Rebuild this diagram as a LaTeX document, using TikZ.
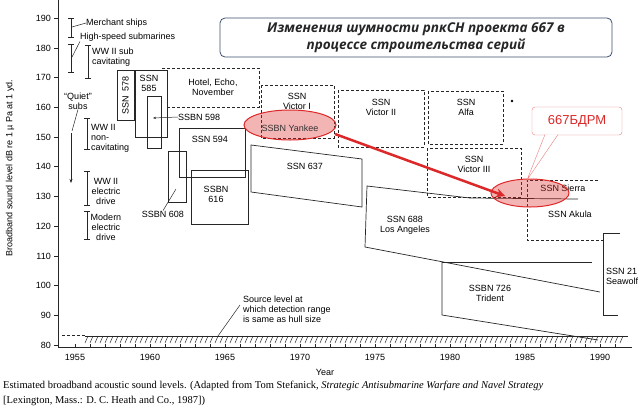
\documentclass[tikz,border=0pt]{standalone}
\usepackage{fontspec}
\setmainfont{Liberation Serif}
\setsansfont{Liberation Sans}
\newfontfamily\titlefont{Open Sans}
\usetikzlibrary{arrows.meta, positioning, shapes.geometric}
\definecolor{markRed}{RGB}{220, 40, 40}
\definecolor{titleBlue}{RGB}{60, 80, 110}
\tikzset{
    % Labels and outlines
    lbl/.style={font=\sffamily\fontsize{9}{10}\selectfont, align=center, inner sep=0pt},
    box/.style={draw=black!85, line width=0.7pt},
    dbox/.style={draw=black!85, line width=0.7pt, dash pattern=on 3pt off 2pt},
    bracket/.style={draw=black!85, line width=0.7pt, |-|},
    leader/.style={draw=black!85, line width=0.5pt},
    hilite/.style={ellipse, draw=markRed, line width=1pt, fill=markRed, fill opacity=0.35}
}
\begin{document}
\begin{tikzpicture}[x=1pt, y=-1pt]
    \useasboundingbox (0,0) rectangle (640,413);

    % --- Axes ---
    \draw[box] (58,0) -- (58,347) -- (632,347);
    \foreach \v [count=\i from 0] in {80,90,...,190} {
        \draw[box] (54,345-29.7*\i) -- (58,345-29.7*\i);
        \node[lbl, anchor=east] at (51,345-29.7*\i) {\v};
    }
    \foreach \yr in {0,...,36} \draw[leader] (75+15*\yr,347) -- (75+15*\yr,344);
    \foreach \yr [count=\i from 0] in {1955,1960,...,1990} \node[lbl] at (75+75*\i,357) {\yr};
    \node[lbl] (xlab) at (325,372) {Year};
    \node[lbl, rotate=90] (ylab) at (10,168) {Broadband sound level dB re 1 \textmu{} Pa at 1 yd.};

    % --- Categories on the left ---
    \draw[bracket] (71,18) -- (71,38);
    \node[lbl, anchor=west] (merch) at (86,23) {Merchant ships};
    \draw[leader] (merch.west) -- (72,27);
    \draw[bracket] (71,44) -- (71,73);
    \node[lbl, anchor=west] (hs) at (80,37) {High-speed submarines};
    \draw[leader] (hs.south west) -- (72,57);
    \draw[bracket] (88,45) -- (88,79);
    \node[lbl, anchor=west, align=left] at (92,57) {WW II sub\\cavitating};
    \node[lbl] (quiet) at (78,101) {``Quiet''\\subs};
    \draw[leader, -{Stealth[length=4pt]}] (71,133) -- (71,183);
    \draw[leader] (quiet.south) -- (72,131);
    \draw[bracket] (87,118) -- (87,150);
    \node[lbl, anchor=west, align=left] at (91,138) {WW II\\non-\\cavitating};
    \draw[bracket] (87,171) -- (87,206);
    \node[lbl] at (106,191) {WW II\\electric\\drive};
    \draw[bracket] (87,211) -- (87,240);
    \node[lbl] at (106,227) {Modern\\electric\\drive};

    % --- Boats ---
    \draw[box] (117,70) rectangle (134,120);
    \node[lbl, rotate=90] at (125.5,95) {SSN\enspace 578};
    \draw[box] (135,70) rectangle (167,137);
    \node[lbl] at (149,83) {SSN\\585};
    \draw[box] (147,96) rectangle (161,148);
    \node[lbl, anchor=west] (s598) at (178,117) {SSBN 598};
    \draw[leader, -{Stealth[length=3pt]}] (s598.west) -- (153,118);
    \draw[dbox] (162,68) -- (259,68) -- (259,107) -- (167,107);
    \node[lbl] at (213,87) {Hotel, Echo,\\November};
    \draw[box] (179,128) rectangle (245,177);
    \node[lbl] at (210,139) {SSN 594};
    \draw[box] (168,151) rectangle (186,202);
    \node[lbl] (s608) at (163,214) {SSBN 608};
    \draw[leader] (s608.north) -- (176,189);
    \draw[box] (191,170) rectangle (248,224);
    \node[lbl] at (216,194) {SSBN\\616};
    \draw[box] (251,145) -- (362,159) -- (362,207) -- (251,192) -- cycle;
    \node[lbl] at (305,166) {SSN 637};
    \draw[dbox] (261,85) rectangle (334,138);
    \node[lbl] at (297,101) {SSN\\Victor I};
    \draw[dbox] (338,90) rectangle (424,147);
    \node[lbl] at (381,107) {SSN\\Victor II};
    \draw[dbox] (428,91) rectangle (503,144);
    \node[lbl] at (466,107) {SSN\\Alfa};
    \fill (512,101) circle (1.3pt);
    \draw[dbox] (427,148) rectangle (521,197);
    \node[lbl] at (474,164) {SSN\\Victor III};
    \draw[box] (470,198) -- (367,186) -- (365,247) -- (600,292);
    \draw[box] (470,198) -- (578,199);
    \draw[box] (442,262) -- (592,262);
    \node[lbl] at (405,225) {SSN 688\\\textsc{Los Angeles}};
    \draw[box] (442,262) -- (442,315) -- (598,340);
    \node[lbl] at (490,293) {SSBN 726\\Trident};
    \draw[dbox] (598,180) -- (527,180) -- (527,240) -- (603,240);
    \draw[box] (620,233) -- (603,233) -- (603,315) -- (618,315);
    \node[lbl] at (563,188) {SSN Sierra};
    \node[lbl] at (570,214) {SSN Akula};
    \node[lbl, anchor=west, align=left] at (606,276) {SSN 21\\\textsc{Seawolf}};

    % --- Detection floor ---
    \draw[dbox] (62,335) -- (85,335);
    \draw[box] (85,336) -- (628,336);
    \foreach \h in {0,...,107} \draw[leader] (88+5*\h,336) -- (85+5*\h,343);
    \node[lbl, anchor=north west, align=left] (src) at (243,296) {Source level at\\which detection range\\is same as hull size};
    \draw[leader] (240,305) -- (218,336);

    % --- Overlay: title, highlights, callout ---
    \node[draw=titleBlue, line width=0.8pt, rounded corners=5pt, minimum width=392pt, minimum height=39pt, fill=white,
          font=\titlefont\bfseries\itshape\fontsize{13.5}{17}\selectfont, align=center, text=black!85] (title) at (416,37.5)
          {Изменения шумности рпкСН проекта 667 в\\процессе строительства серий};
    \node[hilite, minimum width=92pt, minimum height=30pt] (yankee) at (290,125) {};
    \node[lbl, text=black!80] at (290,128) {SSBN Yankee};
    \node[hilite, minimum width=78pt, minimum height=28pt] (sierra) at (530,193) {};
    \draw[markRed, line width=2.5pt, -{Stealth[length=9pt, width=9pt]}] (335,134) -- (505,196);
    \node[draw=markRed!60, rounded corners=3pt, fill=white, minimum width=90pt, minimum height=28pt,
          font=\sffamily\fontsize{13}{13}\selectfont, text=markRed] (call) at (577,121) {667БДРМ};
    \draw[markRed!60, fill=white] (545,134.5) -- (527,180) -- (558,134.5);

    % --- Caption ---
    \node[anchor=west, font=\fontsize{10.5}{11}\selectfont, inner sep=0pt] (cap1) at (3,386)
        {Estimated broadband acoustic sound levels. (Adapted from Tom Stefanick, \textit{Strategic Antisubmarine Warfare and Navel Strategy}};
    \node[anchor=west, font=\fontsize{10.5}{11}\selectfont, inner sep=0pt] (cap2) at (3,401)
        {[Lexington, Mass.: D. C. Heath and Co., 1987])};
\end{tikzpicture}
\end{document}
